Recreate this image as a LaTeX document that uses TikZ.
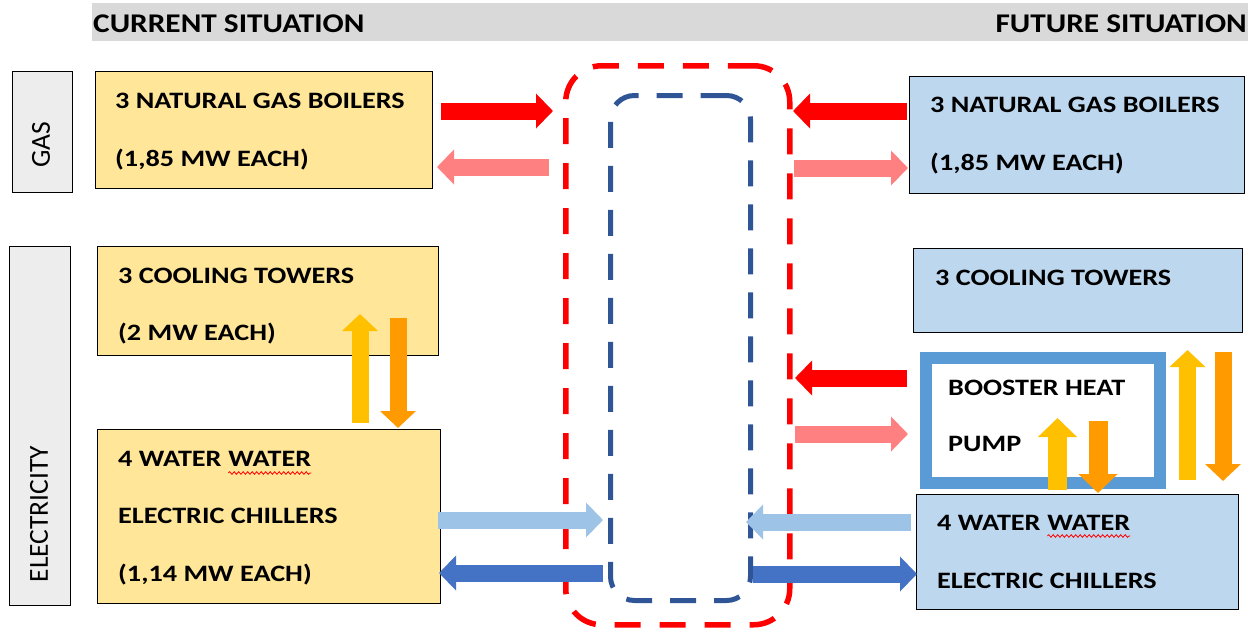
\documentclass[tikz,border=0pt]{standalone}
\usepackage{fontspec}
\usepackage{graphicx}
\setmainfont{Carlito}
\usetikzlibrary{arrows.meta,decorations.pathmorphing}
\definecolor{hdrgray}{HTML}{D9D9D9}
\definecolor{lblgray}{HTML}{EDEDED}
\definecolor{curfill}{HTML}{FFE699}
\definecolor{futfill}{HTML}{BDD7EE}
\definecolor{arrred}{HTML}{FF0000}
\definecolor{arrpink}{HTML}{FF8080}
\definecolor{arrlblue}{HTML}{9DC3E6}
\definecolor{arrdblue}{HTML}{4472C4}
\definecolor{arryellow}{HTML}{FFC000}
\definecolor{arrorange}{HTML}{FF9A00}
\definecolor{tankblue}{HTML}{2F5597}
\definecolor{boostblue}{HTML}{5B9BD5}
\newcommand{\bxt}[1]{\scalebox{1.2}[1]{#1}}
\newcommand{\hxt}[1]{\scalebox{1.16}[1]{#1}}
\begin{document}
\begin{tikzpicture}[x=1pt,y=-1pt,
  boxtxt/.style={anchor=base west, inner sep=0pt, font=\fontsize{23.5}{28}\selectfont\bfseries},
  hdrtxt/.style={inner sep=0pt, font=\fontsize{27}{32}\selectfont\bfseries},
  lbltxt/.style={inner sep=0pt, rotate=90, font=\fontsize{27.5}{32}\selectfont},
  unitbox/.style={draw=black, line width=1.4pt, anchor=north west, inner sep=0pt},
  curbox/.style={unitbox, fill=curfill},
  futbox/.style={unitbox, fill=futfill},
  lblbox/.style={unitbox, fill=lblgray},
  harr/.style={line width=17pt, -{Triangle[length=17pt,width=34pt]}},
  varr/.style={line width=17pt, -{Triangle[length=17pt,width=35pt]}},
  varrs/.style={line width=19pt, -{Triangle[length=19pt,width=38pt]}},
  wavy/.style={draw=red, line width=0.8pt, decorate, decoration={snake, amplitude=1.3pt, segment length=4.5pt}}
]
\useasboundingbox (0,0) rectangle (1248,627);

% header bar
\node[fill=hdrgray, anchor=north west, inner sep=0pt, minimum width=1156pt, minimum height=38pt] (hdr) at (92,3) {};
\node[hdrtxt, anchor=base west] (hcur) at (93,32) {\hxt{CURRENT SITUATION}};
\node[hdrtxt, anchor=base east] (hfut) at (1247,32) {\hxt{FUTURE SITUATION}};

% side labels
\node[lblbox, minimum width=60pt, minimum height=121pt] (gas) at (12,71) {};
\node[lbltxt] (gastxt) at (41,145) {GAS};
\node[lblbox, minimum width=61pt, minimum height=359pt] (elec) at (9,246) {};
\node[lbltxt] (electxt) at (39,514) {ELECTRICITY};

% tanks
\node[draw=arrred, line width=5.5pt, dash pattern=on 26pt off 19pt, rounded corners=36pt,
      anchor=north west, inner sep=0pt, minimum width=224pt, minimum height=559pt] (rtank) at (563,63) {};
\node[draw=tankblue, line width=5pt, dash pattern=on 26pt off 18pt, rounded corners=24pt,
      anchor=north west, inner sep=0pt, minimum width=140pt, minimum height=505pt] (btank) at (608,93) {};

% current situation boxes
\node[curbox, minimum width=337pt, minimum height=117pt] (cboil) at (95,71) {};
\node[boxtxt] (cboil1) at (115,108) {\bxt{3 NATURAL GAS BOILERS}};
\node[boxtxt] (cboil2) at (115,166) {\bxt{(1,85 MW EACH)}};

\node[curbox, minimum width=341pt, minimum height=109pt] (ctow) at (97,246) {};
\node[boxtxt] (ctow1) at (118,283) {\bxt{3 COOLING TOWERS}};
\node[boxtxt] (ctow2) at (118,340) {\bxt{(2 MW EACH)}};

\node[curbox, minimum width=343pt, minimum height=174pt] (cchil) at (97,429) {};
\node[boxtxt] (cchil1) at (118,466) {\bxt{4 WATER}};
\node[boxtxt] (cchil1w) at ([xshift=6.5pt]cchil1.base east) {\bxt{WATER}};
\node[boxtxt] (cchil2) at (118,523) {\bxt{ELECTRIC CHILLERS}};
\node[boxtxt] (cchil3) at (118,581) {\bxt{(1,14 MW EACH)}};
\draw[wavy] ([yshift=-7pt]cchil1w.base west) -- ([yshift=-7pt]cchil1w.base east);

% future situation boxes
\node[futbox, minimum width=335pt, minimum height=117pt] (fboil) at (909,76) {};
\node[boxtxt] (fboil1) at (930,112) {\bxt{3 NATURAL GAS BOILERS}};
\node[boxtxt] (fboil2) at (930,170) {\bxt{(1,85 MW EACH)}};

\node[futbox, minimum width=329pt, minimum height=84pt] (ftow) at (913,248) {};
\node[boxtxt] (ftow1) at (935,285) {\bxt{3 COOLING TOWERS}};

\node[draw=boostblue, fill=white, line width=12pt, anchor=north west, inner sep=0pt,
      minimum width=234pt, minimum height=124.5pt] (boost) at (919.5,352) {};
\node[boxtxt] (boost1) at (948,395) {\bxt{BOOSTER HEAT}};
\node[boxtxt] (boost2) at (948,451) {\bxt{PUMP}};

\node[futbox, minimum width=322pt, minimum height=115pt] (fchil) at (916,494) {};
\node[boxtxt] (fchil1) at (937,530) {\bxt{4 WATER}};
\node[boxtxt] (fchil1w) at ([xshift=6.5pt]fchil1.base east) {\bxt{WATER}};
\node[boxtxt] (fchil2) at (937,588) {\bxt{ELECTRIC CHILLERS}};
\draw[wavy] ([yshift=-6pt]fchil1w.base west) -- ([yshift=-6pt]fchil1w.base east);

% arrow end points
\coordinate (a1s) at (441,111);  \coordinate (a1e) at (553,111);
\coordinate (a2s) at (549,167);  \coordinate (a2e) at (437,167);
\coordinate (a3s) at (907,111);  \coordinate (a3e) at (793,111);
\coordinate (a4s) at (794,168);  \coordinate (a4e) at (908,168);
\coordinate (a5s) at (907,378);  \coordinate (a5e) at (795,378);
\coordinate (a6s) at (795,434);  \coordinate (a6e) at (908,434);
\coordinate (a7s) at (438,520);  \coordinate (a7e) at (603,520);
\coordinate (a8s) at (603,573);  \coordinate (a8e) at (439,573);
\coordinate (a9s) at (911,522);  \coordinate (a9e) at (746,522);
\coordinate (a10s) at (753,574); \coordinate (a10e) at (917,574);

\coordinate (v1s) at (360,423);  \coordinate (v1e) at (360,314);
\coordinate (v2s) at (398,318);  \coordinate (v2e) at (398,428);
\coordinate (v3s) at (1057.5,490); \coordinate (v3e) at (1057.5,418);
\coordinate (v4s) at (1098,421); \coordinate (v4e) at (1098,493);
\coordinate (v5s) at (1187.5,480); \coordinate (v5e) at (1187.5,350);
\coordinate (v6s) at (1223,352); \coordinate (v6e) at (1223,481);

% horizontal arrows
\draw[harr, arrred] (a1s) -- (a1e);
\draw[harr, arrpink] (a2s) -- (a2e);
\draw[harr, arrred] (a3s) -- (a3e);
\draw[harr, arrpink] (a4s) -- (a4e);
\draw[harr, arrred] (a5s) -- (a5e);
\draw[harr, arrpink] (a6s) -- (a6e);
\draw[harr, arrlblue] (a7s) -- (a7e);
\draw[harr, arrdblue] (a8s) -- (a8e);
\draw[harr, arrlblue] (a9s) -- (a9e);
\draw[harr, arrdblue] (a10s) -- (a10e);

% vertical arrows
\draw[varr, arryellow] (v1s) -- (v1e);
\draw[varr, arrorange] (v2s) -- (v2e);
\draw[varrs, arryellow] (v3s) -- (v3e);
\draw[varrs, arrorange] (v4s) -- (v4e);
\draw[varr, arryellow] (v5s) -- (v5e);
\draw[varr, arrorange] (v6s) -- (v6e);
\end{tikzpicture}
\end{document}
